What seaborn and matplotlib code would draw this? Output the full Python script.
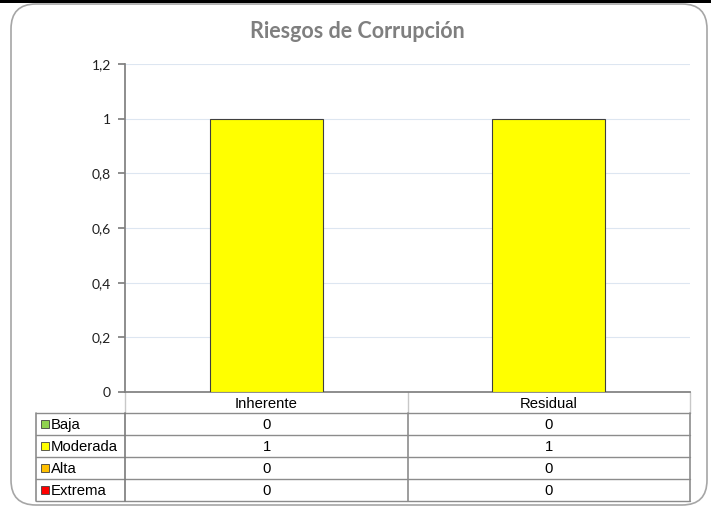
import numpy as np
import pandas as pd
import matplotlib
matplotlib.use("Agg")
import matplotlib.pyplot as plt
import seaborn as sns
from matplotlib.patches import FancyBboxPatch, Rectangle
from matplotlib.ticker import FuncFormatter

# Data
categories = ["Inherente", "Residual"]
levels = ["Baja", "Moderada", "Alta", "Extrema"]
baja = [0, 0]
moderada = [1, 1]
alta = [0, 0]
extrema = [0, 0]
level_colors = ["#8fd14f", "#ffff00", "#ffc000", "#ff0000"]

df = pd.DataFrame({"Riesgo": categories, "Baja": baja, "Moderada": moderada,
                   "Alta": alta, "Extrema": extrema})

sns.set_theme(style="white")
plt.rcParams["font.family"] = ["Liberation Sans", "DejaVu Sans"]

W, H = 711, 508
fig = plt.figure(figsize=(W / 100, H / 100), dpi=100)
fig.patch.set_facecolor("white")

# rounded frame + black strip at the top
fig.patches.append(FancyBboxPatch((11 / W, 3 / H), 696 / W, 501 / H,
                                  boxstyle="round,pad=0,rounding_size=0.035",
                                  transform=fig.transFigure, facecolor="white",
                                  edgecolor="#a6a6a6", linewidth=1.2, zorder=-5,
                                  mutation_aspect=W / H))
fig.patches.append(Rectangle((0, 1 - 3 / H), 1, 3 / H, transform=fig.transFigure,
                             facecolor="black", edgecolor="none", zorder=-4))

# axes box in pixels
AX_L, AX_R, AX_T, AX_B = 125, 690, 64, 392
ax = fig.add_axes([AX_L / W, 1 - AX_B / H, (AX_R - AX_L) / W, (AX_B - AX_T) / H])
ax.set_facecolor("none")


def px(x, y):
    # pixel position -> axes fraction
    return (x - AX_L) / (AX_R - AX_L), (AX_B - y) / (AX_B - AX_T)


# stacked bars: draw cumulative totals from the top level down
cum = df[levels].cumsum(axis=1)
for lvl, col in reversed(list(zip(levels, level_colors))):
    sns.barplot(x=df["Riesgo"], y=cum[lvl], color=col, width=0.4, ax=ax,
                edgecolor="#404040", linewidth=0.8 if df[lvl].sum() > 0 else 0,
                saturation=1, zorder=3)

ax.set_ylim(0, 1.2)
ax.set_xlim(-0.5, 1.5)
ax.set_yticks(np.arange(0, 1.21, 0.2))
ax.yaxis.set_major_formatter(FuncFormatter(lambda v, p: f"{v:g}".replace(".", ",")))
ax.grid(axis="y", color="#dde6f1", linewidth=0.8, zorder=0)
ax.set_axisbelow(True)
for s in ["top", "right"]:
    ax.spines[s].set_visible(False)
ax.spines["left"].set_color("#808080")
ax.spines["bottom"].set_color("#808080")
ax.tick_params(axis="y", length=5, color="#808080", direction="out", left=True,
               labelsize=10, pad=5)
for t in ax.get_yticklabels():
    t.set_fontfamily(["Lato", "DejaVu Sans"])
    t.set_color("#202020")
ax.set_xticks([])
ax.set_xlabel("")
ax.set_ylabel("")

fig.text(357 / W, 1 - 32 / H, "Riesgos de Corrupción", ha="center", va="center",
         fontsize=15.5, fontweight="bold", color="#7f7f7f", family=["Lato", "DejaVu Sans"])

# data table under the axis (drawn by hand)
tab_left, col_mid = 36, 408
head_b = 413
row_h = 22
row_edges = [head_b + i * row_h for i in range(len(levels) + 1)]
col_edges = [AX_L, col_mid, AX_R]
kw = dict(transform=ax.transAxes, clip_on=False)

# header cells
for xe in col_edges:
    ax.plot(*zip(px(xe, AX_B), px(xe, head_b)), color="#c8c8c8", lw=1, **kw)
for j, cat in enumerate(categories):
    xc = (col_edges[j] + col_edges[j + 1]) / 2
    ax.text(*px(xc, (AX_B + head_b) / 2 + 1), cat, ha="center", va="center",
            fontsize=10.7, color="black", **kw)

# body grid
for ye in row_edges:
    ax.plot(*zip(px(tab_left, ye), px(AX_R, ye)), color="#8c8c8c", lw=1, **kw)
for xe, c in zip([tab_left, AX_L, col_mid, AX_R], ["#8c8c8c", "#7a7a7a", "#8c8c8c", "#8c8c8c"]):
    ax.plot(*zip(px(xe, row_edges[0]), px(xe, row_edges[-1])), color=c, lw=1.2, **kw)

for i, (lvl, col) in enumerate(zip(levels, level_colors)):
    yc = row_edges[i] + row_h / 2
    ax.plot(*px(45, yc), marker="s", markersize=5.8, color=col,
            markeredgecolor="#404040", markeredgewidth=0.6, zorder=5, **kw)
    ax.text(*px(51, yc + 1), lvl, ha="left", va="center", fontsize=10.7,
            color="black", **kw)
    for j, v in enumerate(df[lvl]):
        xc = (col_edges[j] + col_edges[j + 1]) / 2
        ax.text(*px(xc, yc + 1), str(v), ha="center", va="center", fontsize=10.7,
                color="black", **kw)

fig.savefig("out.png", dpi=100)
